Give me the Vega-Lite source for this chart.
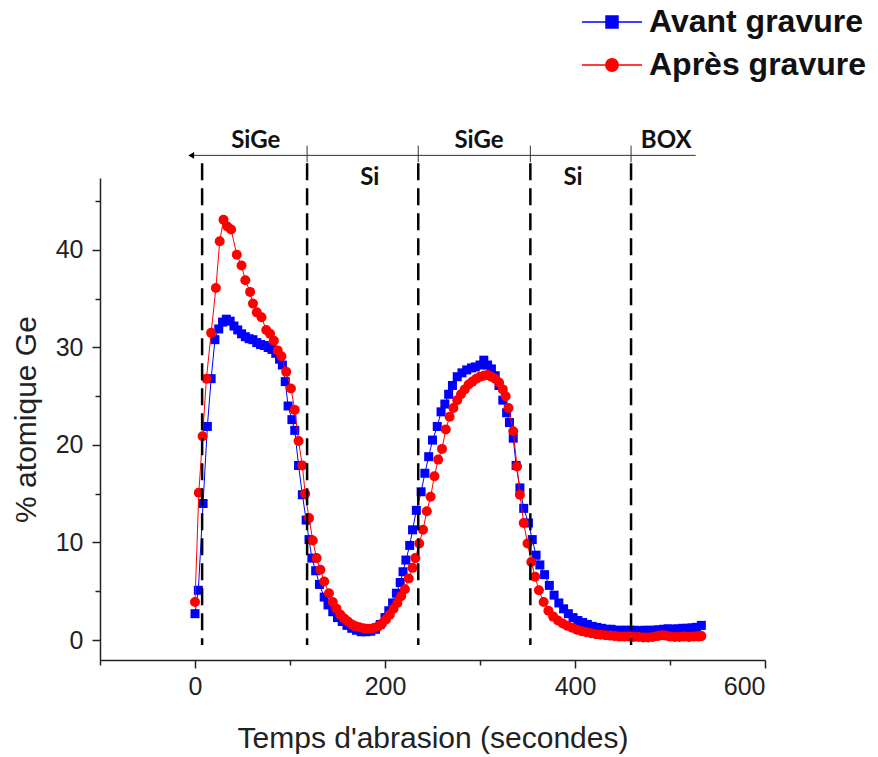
{
  "$schema": "https://vega.github.io/schema/vega-lite/v6.json",
  "autosize": "none",
  "width": 665,
  "height": 482,
  "padding": {"left": 100, "top": 178, "right": 113, "bottom": 97},
  "background": "white",
  "config": {"view": {"stroke": null}},
  "datasets": {
    "avant": [
      {"t":0,"ge":2.7},{"t":3.5,"ge":5.1},{"t":8.5,"ge":14.0},{"t":13,"ge":21.9},{"t":17,"ge":26.8},{"t":21,"ge":30.8},{"t":25,"ge":31.9},{"t":29,"ge":32.6},{"t":33,"ge":32.9},{"t":37,"ge":32.7},{"t":41,"ge":32.2},{"t":45,"ge":31.8},{"t":49,"ge":31.4},{"t":53,"ge":31.1},{"t":57,"ge":30.9},{"t":61,"ge":30.8},{"t":65,"ge":30.5},{"t":69,"ge":30.3},{"t":73,"ge":30.2},{"t":77,"ge":30.0},{"t":81,"ge":29.8},{"t":85,"ge":29.4},{"t":89,"ge":28.8},{"t":92,"ge":28.2},{"t":95,"ge":26.5},{"t":98,"ge":24.0},{"t":102,"ge":22.6},{"t":105,"ge":21.5},{"t":109,"ge":17.9},{"t":113,"ge":14.9},{"t":117,"ge":12.3},{"t":120,"ge":10.3},{"t":123,"ge":8.4},{"t":127,"ge":7.1},{"t":131,"ge":5.7},{"t":136,"ge":4.4},{"t":140,"ge":3.6},{"t":145,"ge":2.9},{"t":150,"ge":2.3},{"t":155,"ge":1.9},{"t":160,"ge":1.5},{"t":165,"ge":1.2},{"t":170,"ge":1.0},{"t":175,"ge":0.85},{"t":180,"ge":0.85},{"t":185,"ge":0.9},{"t":190,"ge":1.1},{"t":195,"ge":1.6},{"t":200,"ge":2.3},{"t":204,"ge":3.0},{"t":208,"ge":3.8},{"t":212,"ge":4.8},{"t":216,"ge":5.9},{"t":219,"ge":7.0},{"t":222,"ge":8.2},{"t":226,"ge":9.7},{"t":229,"ge":11.3},{"t":233,"ge":13.3},{"t":238,"ge":15.2},{"t":242,"ge":17.1},{"t":246,"ge":18.8},{"t":250,"ge":20.5},{"t":255,"ge":21.9},{"t":259,"ge":23.4},{"t":263,"ge":24.2},{"t":267,"ge":25.2},{"t":271,"ge":26.1},{"t":276,"ge":27.0},{"t":281,"ge":27.4},{"t":286,"ge":27.7},{"t":291,"ge":27.9},{"t":295,"ge":28.0},{"t":300,"ge":28.2},{"t":304,"ge":28.7},{"t":308,"ge":28.2},{"t":312,"ge":27.8},{"t":316,"ge":27.1},{"t":320,"ge":26.1},{"t":324,"ge":24.6},{"t":328,"ge":23.3},{"t":331,"ge":22.3},{"t":335,"ge":20.7},{"t":338,"ge":17.9},{"t":342,"ge":15.6},{"t":346,"ge":13.5},{"t":351,"ge":12.0},{"t":355,"ge":10.3},{"t":359,"ge":8.7},{"t":363,"ge":7.7},{"t":368,"ge":6.7},{"t":373,"ge":5.6},{"t":378,"ge":4.6},{"t":383,"ge":3.8},{"t":388,"ge":3.2},{"t":393,"ge":2.7},{"t":398,"ge":2.3},{"t":403,"ge":2.0},{"t":408,"ge":1.8},{"t":413,"ge":1.6},{"t":418,"ge":1.4},{"t":423,"ge":1.3},{"t":428,"ge":1.2},{"t":433,"ge":1.1},{"t":438,"ge":1.1},{"t":443,"ge":1.0},{"t":448,"ge":1.0},{"t":453,"ge":1.0},{"t":458,"ge":1.0},{"t":463,"ge":1.0},{"t":468,"ge":0.95},{"t":473,"ge":1.0},{"t":478,"ge":1.0},{"t":483,"ge":1.0},{"t":488,"ge":1.05},{"t":493,"ge":1.1},{"t":498,"ge":1.15},{"t":503,"ge":1.1},{"t":508,"ge":1.15},{"t":513,"ge":1.2},{"t":518,"ge":1.2},{"t":523,"ge":1.25},{"t":528,"ge":1.3},{"t":533,"ge":1.5}
    ],
    "apres": [
      {"t":0,"ge":3.9},{"t":4,"ge":15.1},{"t":8,"ge":20.9},{"t":12,"ge":26.8},{"t":17,"ge":31.5},{"t":22,"ge":36.1},{"t":26,"ge":40.9},{"t":30,"ge":43.1},{"t":34,"ge":42.4},{"t":38,"ge":42.1},{"t":44,"ge":39.5},{"t":49,"ge":38.4},{"t":53,"ge":36.9},{"t":58,"ge":35.7},{"t":61,"ge":34.5},{"t":65,"ge":33.6},{"t":70,"ge":33.1},{"t":75,"ge":31.8},{"t":79,"ge":31.4},{"t":83,"ge":30.7},{"t":87,"ge":29.7},{"t":91,"ge":29.1},{"t":96,"ge":27.5},{"t":101,"ge":25.8},{"t":105,"ge":23.6},{"t":109,"ge":20.4},{"t":113,"ge":17.9},{"t":116,"ge":15.0},{"t":120,"ge":12.5},{"t":124,"ge":10.2},{"t":128,"ge":8.4},{"t":132,"ge":7.2},{"t":136,"ge":6.0},{"t":141,"ge":4.8},{"t":145,"ge":3.9},{"t":149,"ge":3.2},{"t":153,"ge":2.6},{"t":157,"ge":2.2},{"t":161,"ge":1.9},{"t":165,"ge":1.6},{"t":169,"ge":1.4},{"t":173,"ge":1.3},{"t":177,"ge":1.2},{"t":181,"ge":1.15},{"t":185,"ge":1.15},{"t":189,"ge":1.25},{"t":193,"ge":1.4},{"t":197,"ge":1.7},{"t":201,"ge":2.1},{"t":205,"ge":2.6},{"t":209,"ge":3.2},{"t":213,"ge":3.8},{"t":217,"ge":4.5},{"t":221,"ge":5.2},{"t":225,"ge":6.3},{"t":229,"ge":7.4},{"t":232,"ge":8.4},{"t":236,"ge":9.9},{"t":240,"ge":11.3},{"t":244,"ge":13.2},{"t":248,"ge":14.7},{"t":252,"ge":16.8},{"t":256,"ge":18.5},{"t":260,"ge":19.6},{"t":264,"ge":21.6},{"t":268,"ge":22.9},{"t":272,"ge":23.8},{"t":276,"ge":24.6},{"t":280,"ge":25.2},{"t":284,"ge":25.7},{"t":288,"ge":26.2},{"t":292,"ge":26.5},{"t":296,"ge":26.8},{"t":300,"ge":27.0},{"t":304,"ge":27.1},{"t":308,"ge":27.2},{"t":312,"ge":27.0},{"t":316,"ge":26.8},{"t":320,"ge":26.4},{"t":324,"ge":25.7},{"t":327,"ge":25.0},{"t":330,"ge":23.8},{"t":335,"ge":21.4},{"t":339,"ge":17.8},{"t":342,"ge":14.9},{"t":346,"ge":12.0},{"t":350,"ge":9.9},{"t":354,"ge":8.0},{"t":358,"ge":6.5},{"t":362,"ge":5.1},{"t":367,"ge":3.9},{"t":372,"ge":3.0},{"t":377,"ge":2.4},{"t":382,"ge":2.0},{"t":387,"ge":1.7},{"t":392,"ge":1.45},{"t":397,"ge":1.25},{"t":402,"ge":1.05},{"t":407,"ge":0.9},{"t":412,"ge":0.8},{"t":417,"ge":0.7},{"t":422,"ge":0.6},{"t":427,"ge":0.55},{"t":432,"ge":0.5},{"t":437,"ge":0.45},{"t":442,"ge":0.4},{"t":447,"ge":0.35},{"t":452,"ge":0.35},{"t":457,"ge":0.35},{"t":462,"ge":0.3},{"t":467,"ge":0.3},{"t":472,"ge":0.25},{"t":477,"ge":0.25},{"t":482,"ge":0.3},{"t":487,"ge":0.4},{"t":491,"ge":0.5},{"t":495,"ge":0.45},{"t":500,"ge":0.35},{"t":505,"ge":0.3},{"t":510,"ge":0.3},{"t":515,"ge":0.35},{"t":520,"ge":0.3},{"t":525,"ge":0.35},{"t":530,"ge":0.35},{"t":533,"ge":0.4}
    ],
    "limites": [
      {"t":7.5,"marque":false},{"t":118,"marque":true},{"t":235,"marque":true},{"t":353,"marque":true},{"t":459,"marque":true}
    ],
    "couches": [
      {"nom":"SiGe","t":64,"cote":"haut"},{"nom":"Si","t":184,"cote":"bas"},{"nom":"SiGe","t":299,"cote":"haut"},{"nom":"Si","t":398,"cote":"bas"},{"nom":"BOX","t":496,"cote":"haut"}
    ]
  },
  "layer": [
    {
      "data": {"name": "avant"},
      "transform": [{"calculate": "'Avant gravure'", "as": "serie"}],
      "mark": {"type": "line", "strokeWidth": 1, "point": {"shape": "square", "size": 81, "filled": true, "opacity": 1}},
      "encoding": {
        "x": {"field": "t", "type": "quantitative",
              "scale": {"domain": [-100, 600], "nice": false, "zero": false},
              "axis": {"title": "Temps d'abrasion (secondes)", "values": [-100,0,100,200,300,400,500,600],
                       "labelExpr": "datum.value % 200 === 0 && datum.value >= 0 ? datum.label : ''",
                       "grid": false, "domainColor": "#222", "domainWidth": 1.5, "tickColor": "#222", "tickWidth": 1.5,
                       "tickSize": {"condition": {"test": "datum.value % 200 === 0", "value": 8}, "value": 5},
                       "labelFont": "Liberation Sans", "labelFontSize": 25, "labelColor": "#222", "labelPadding": 6,
                       "titleFont": "Liberation Sans", "titleFontSize": 30, "titleFontWeight": "normal", "titleColor": "#222", "titlePadding": 24}},
        "y": {"field": "ge", "type": "quantitative",
              "scale": {"domain": [-2.05, 47.38], "nice": false, "zero": false},
              "axis": {"title": "% atomique Ge", "values": [0,5,10,15,20,25,30,35,40,45],
                       "labelExpr": "datum.value % 10 === 0 ? datum.label : ''",
                       "grid": false, "domainColor": "#222", "domainWidth": 1.5, "tickColor": "#222", "tickWidth": 1.5,
                       "tickSize": {"condition": {"test": "datum.value % 10 === 0", "value": 8}, "value": 5},
                       "labelFont": "Liberation Sans", "labelFontSize": 25, "labelColor": "#222", "labelPadding": 9,
                       "titleFont": "Liberation Sans", "titleFontSize": 30, "titleFontWeight": "normal", "titleColor": "#222", "titlePadding": 14}},
        "color": {"field": "serie", "type": "nominal",
                  "scale": {"domain": ["Avant gravure", "Après gravure"], "range": ["#0000ff", "#ff0000"]},
                  "legend": {"orient": "none", "legendX": 496, "legendY": -172, "title": null, "padding": 0,
                             "labelFont": "Liberation Sans", "labelFontWeight": "bold", "labelFontSize": 32, "labelColor": "#111",
                             "labelLimit": 400, "labelOffset": 21, "rowPadding": 11, "symbolSize": 400,
                             "encode": {"symbols": {"update": {
                               "shape": {"signal": "datum.value === 'Avant gravure' ? 'M-3,0H3M-0.6,-0.6H0.6V0.6H-0.6Z' : 'M-3,0H3M0.62,0A0.62,0.62,0,1,1,-0.62,0A0.62,0.62,0,1,1,0.62,0Z'"},
                               "fill": {"signal": "datum.value === 'Avant gravure' ? '#0000ff' : '#ff0000'"},
                               "stroke": {"signal": "datum.value === 'Avant gravure' ? '#0000ff' : '#ff0000'"},
                               "strokeWidth": {"value": 1.5},
                               "opacity": {"value": 1},
                               "fillOpacity": {"value": 1},
                               "strokeOpacity": {"value": 1}
                             }}}}}
      }
    },
    {
      "data": {"name": "apres"},
      "transform": [{"calculate": "'Après gravure'", "as": "serie"}],
      "mark": {"type": "line", "strokeWidth": 1, "point": {"shape": "circle", "size": 100, "filled": true, "opacity": 1}},
      "encoding": {
        "x": {"field": "t", "type": "quantitative"},
        "y": {"field": "ge", "type": "quantitative"},
        "color": {"field": "serie", "type": "nominal"}
      }
    },
    {
      "data": {"name": "limites"},
      "mark": {"type": "rule", "color": "black", "strokeWidth": 2.5, "strokeDash": [17, 8]},
      "encoding": {
        "x": {"field": "t", "type": "quantitative"},
        "y": {"datum": 48.9, "type": "quantitative"},
        "y2": {"datum": -0.5}
      }
    },
    {
      "data": {"name": "limites"},
      "transform": [{"filter": "datum.marque"}],
      "mark": {"type": "rule", "color": "#333", "strokeWidth": 1},
      "encoding": {
        "x": {"field": "t", "type": "quantitative"},
        "y": {"datum": 50.7, "type": "quantitative"},
        "y2": {"datum": 49.0}
      }
    },
    {
      "data": {"values": [{"ligne": "profondeur"}]},
      "mark": {"type": "rule", "color": "#333", "strokeWidth": 1},
      "encoding": {
        "x": {"datum": -5, "type": "quantitative"},
        "x2": {"datum": 527},
        "y": {"datum": 49.7, "type": "quantitative"}
      }
    },
    {
      "data": {"values": [{"ligne": "profondeur"}]},
      "mark": {"type": "point", "shape": "triangle-left", "filled": true, "color": "black", "size": 45, "opacity": 1},
      "encoding": {
        "x": {"datum": -4, "type": "quantitative"},
        "y": {"datum": 49.7, "type": "quantitative"}
      }
    },
    {
      "data": {"name": "couches"},
      "transform": [{"filter": "datum.cote === 'haut'"}],
      "mark": {"type": "text", "font": "Lato", "fontWeight": "bold", "fontSize": 24, "color": "#111", "baseline": "middle", "align": "center"},
      "encoding": {
        "x": {"field": "t", "type": "quantitative"},
        "y": {"datum": 51.2, "type": "quantitative"},
        "text": {"field": "nom"}
      }
    },
    {
      "data": {"name": "couches"},
      "transform": [{"filter": "datum.cote === 'bas'"}],
      "mark": {"type": "text", "font": "Lato", "fontWeight": "bold", "fontSize": 24, "color": "#111", "baseline": "middle", "align": "center"},
      "encoding": {
        "x": {"field": "t", "type": "quantitative"},
        "y": {"datum": 47.4, "type": "quantitative"},
        "text": {"field": "nom"}
      }
    }
  ]
}
